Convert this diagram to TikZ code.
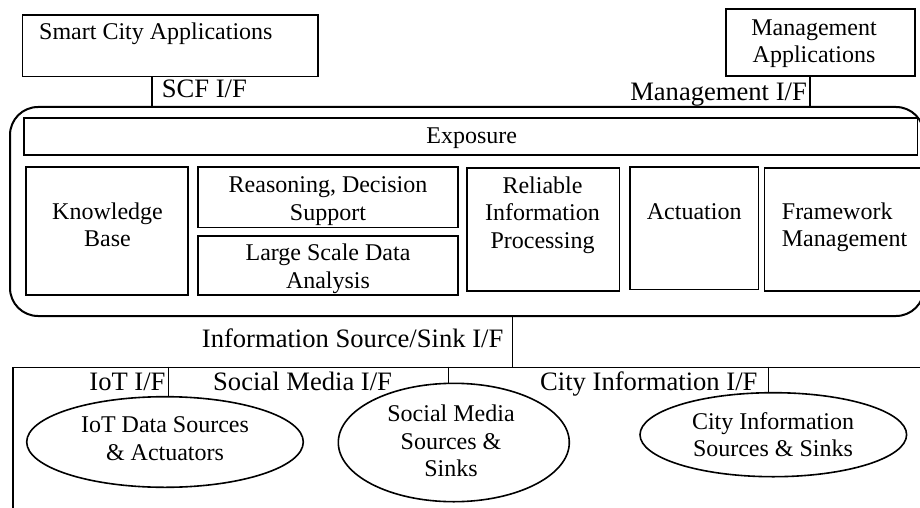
\documentclass[tikz,border=0pt]{standalone}
\usepackage{fontspec}
\setmainfont{Liberation Serif}
\usetikzlibrary{shapes.geometric}
\begin{document}
\begin{tikzpicture}[x=1pt,y=-1pt,
	blk/.style={draw,line width=1.6pt,inner sep=0pt},
	frm/.style={draw,line width=2pt,rounded corners=28pt,inner sep=0pt},
	srcs/.style={draw,ellipse,line width=1.6pt,inner sep=0pt},
	txt/.style={inner sep=0pt,font=\fontsize{24}{27.5}\selectfont,align=center},
	lbl/.style={inner sep=0pt,font=\fontsize{26.6}{30}\selectfont},
	ifline/.style={line width=1.2pt}]
	\useasboundingbox (0,0) rectangle (920,508);

	% applications
	\node[blk,minimum width=295.4pt,minimum height=61.7pt] (sca) at (170,45.85) {};
	\node[txt,anchor=base west] (scat) at (39,40) {Smart City Applications};
	\node[blk,minimum width=189.3pt,minimum height=67pt] (mga) at (820.35,42.5) {};
	\node[txt,anchor=base] (mgat) at (814,63) {Management\\Applications};

	% framework (base = last line)
	\node[frm,minimum width=914pt,minimum height=209pt] (scf) at (467,211.5) {};
	\node[blk,minimum width=893.3pt,minimum height=36.7pt] (expo) at (470.65,136.65) {};
	\node[txt,anchor=base] (expot) at (471.7,143) {Exposure};
	\node[blk,minimum width=161.7pt,minimum height=128.3pt] (kb) at (106.85,230.85) {};
	\node[txt,anchor=base] (kbt) at (107.5,246.7) {Knowledge\\Base};
	\node[blk,minimum width=259.7pt,minimum height=60.6pt] (rds) at (327.85,197) {};
	\node[txt,anchor=base] (rdst) at (328,220) {Reasoning, Decision\\Support};
	\node[blk,minimum width=259.7pt,minimum height=59pt] (lsda) at (327.85,265.5) {};
	\node[txt,anchor=base] (lsdat) at (328,288) {Large Scale Data\\Analysis};
	\node[blk,minimum width=152.6pt,minimum height=122.7pt] (rip) at (543,229.35) {};
	\node[txt,anchor=base] (ript) at (542.5,248.3) {Reliable\\Information\\Processing};
	\node[blk,minimum width=128.3pt,minimum height=122.6pt] (act) at (694.15,228) {};
	\node[txt,anchor=base] (actt) at (694.2,219) {Actuation};
	\node[blk,minimum width=160.7pt,minimum height=123pt] (fwm) at (844.65,229.2) {};
	\node[txt,anchor=base west,align=left] (fwmt) at (781.7,246.7) {Framework\\Management};

	% sources and sinks
	\node[blk,minimum width=927.3pt,minimum height=162.7pt] (isrc) at (476.35,448.65) {};
	\node[srcs,minimum width=276.6pt,minimum height=90.6pt] (iot) at (165,442) {};
	\node[txt,anchor=base] (iott) at (165,460) {IoT Data Sources\\\& Actuators};
	\node[srcs,minimum width=231pt,minimum height=118.4pt] (smss) at (453.8,442.5) {};
	\node[txt,anchor=base] (smsst) at (451,476.7) {Social Media\\Sources \&\\Sinks};
	\node[srcs,minimum width=266.6pt,minimum height=84pt] (ciss) at (773.3,434.7) {};
	\node[txt,anchor=base] (cisst) at (773,456.7) {City Information\\Sources \& Sinks};

	% interfaces
	\coordinate (scfx) at (152,0);
	\coordinate (mgx) at (810,0);
	\coordinate (isx) at (512.7,0);
	\coordinate (iotx) at (168.3,0);
	\coordinate (smx) at (448.3,0);
	\coordinate (cix) at (768.3,0);
	\draw[ifline] (sca.south -| scfx) -- (scf.north -| scfx);
	\draw[ifline] (mga.south -| mgx) -- (scf.north -| mgx);
	\draw[ifline] (scf.south -| isx) -- (isrc.north -| isx);
	\draw[ifline] (isrc.north -| iotx) -- (iot.north -| iotx);
	\draw[ifline] (isrc.north -| smx) -- (smss.north -| smx);
	\draw[ifline] (isrc.north -| cix) -- (ciss.north -| cix);
	\node[lbl,anchor=base west] (scfl) at (161.7,98) {SCF I/F};
	\node[lbl,anchor=base east] (mgl) at (807,101) {Management I/F};
	\node[lbl,anchor=base west] (isl) at (201.7,347.3) {Information Source/Sink I/F};
	\node[lbl,anchor=base east] (iotl) at (165.7,390.7) {IoT I/F};
	\node[lbl,anchor=base west] (sml) at (213,390.7) {Social Media I/F};
	\node[lbl,anchor=base west] (cil) at (540,390.7) {City Information I/F};
\end{tikzpicture}
\end{document}
